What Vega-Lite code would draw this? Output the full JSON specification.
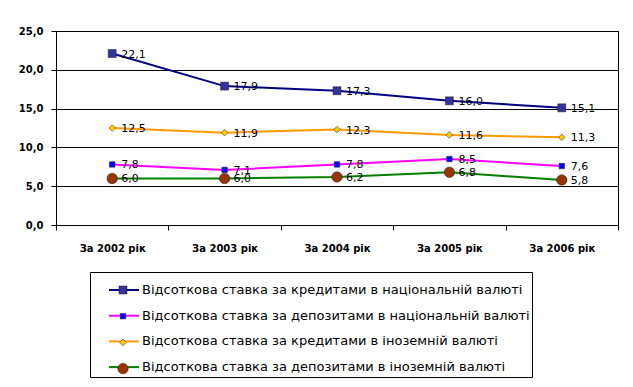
{
  "$schema": "https://vega.github.io/schema/vega-lite/v6.json",
  "width": 562,
  "height": 194,
  "autosize": {"type": "none"},
  "padding": {"left": 56, "top": 31, "right": 15, "bottom": 162},
  "background": "white",
  "config": {
    "locale": {"number": {"decimal": ",", "thousands": " ", "grouping": [3], "currency": ["", ""]}},
    "view": {"stroke": "black", "strokeWidth": 1},
    "font": "DejaVu Sans"
  },
  "data": {
    "values": [
      {"series": "Відсоткова ставка за кредитами в національній валюті", "year": "За 2002 рік", "value": 22.1},
      {"series": "Відсоткова ставка за кредитами в національній валюті", "year": "За 2003 рік", "value": 17.9},
      {"series": "Відсоткова ставка за кредитами в національній валюті", "year": "За 2004 рік", "value": 17.3},
      {"series": "Відсоткова ставка за кредитами в національній валюті", "year": "За 2005 рік", "value": 16.0},
      {"series": "Відсоткова ставка за кредитами в національній валюті", "year": "За 2006 рік", "value": 15.1},
      {"series": "Відсоткова ставка за депозитами в національній валюті", "year": "За 2002 рік", "value": 7.8},
      {"series": "Відсоткова ставка за депозитами в національній валюті", "year": "За 2003 рік", "value": 7.1},
      {"series": "Відсоткова ставка за депозитами в національній валюті", "year": "За 2004 рік", "value": 7.8},
      {"series": "Відсоткова ставка за депозитами в національній валюті", "year": "За 2005 рік", "value": 8.5},
      {"series": "Відсоткова ставка за депозитами в національній валюті", "year": "За 2006 рік", "value": 7.6},
      {"series": "Відсоткова ставка за кредитами в іноземній валюті", "year": "За 2002 рік", "value": 12.5},
      {"series": "Відсоткова ставка за кредитами в іноземній валюті", "year": "За 2003 рік", "value": 11.9},
      {"series": "Відсоткова ставка за кредитами в іноземній валюті", "year": "За 2004 рік", "value": 12.3},
      {"series": "Відсоткова ставка за кредитами в іноземній валюті", "year": "За 2005 рік", "value": 11.6},
      {"series": "Відсоткова ставка за кредитами в іноземній валюті", "year": "За 2006 рік", "value": 11.3},
      {"series": "Відсоткова ставка за депозитами в іноземній валюті", "year": "За 2002 рік", "value": 6.0},
      {"series": "Відсоткова ставка за депозитами в іноземній валюті", "year": "За 2003 рік", "value": 6.0},
      {"series": "Відсоткова ставка за депозитами в іноземній валюті", "year": "За 2004 рік", "value": 6.2},
      {"series": "Відсоткова ставка за депозитами в іноземній валюті", "year": "За 2005 рік", "value": 6.8},
      {"series": "Відсоткова ставка за депозитами в іноземній валюті", "year": "За 2006 рік", "value": 5.8}
    ]
  },
  "encoding": {
    "x": {
      "field": "year", "type": "ordinal", "bandPosition": 0.5,
      "scale": {"type": "band", "paddingInner": 0, "paddingOuter": 0},
      "axis": {
        "title": null, "labelAngle": 0, "domainColor": "black", "tickColor": "black",
        "tickBand": "extent", "tickSize": 5, "labelPadding": 13,
        "labelFont": "DejaVu Sans", "labelFontSize": 10, "labelFontWeight": "bold", "labelColor": "black",
        "grid": false
      }
    },
    "y": {
      "field": "value", "type": "quantitative",
      "scale": {"domain": [0, 25], "nice": false},
      "axis": {
        "title": null, "values": [0, 5, 10, 15, 20, 25], "format": ".1f",
        "domainColor": "black", "tickColor": "black", "tickSize": 5, "labelPadding": 8,
        "gridColor": "black", "gridOpacity": 1, "gridWidth": 1,
        "labelFont": "DejaVu Sans", "labelFontSize": 10, "labelFontWeight": "bold", "labelColor": "black"
      }
    }
  },
  "layer": [
    {
      "mark": {"type": "line", "strokeWidth": 2},
      "encoding": {
        "stroke": {
          "field": "series", "type": "nominal",
          "sort": [
            "Відсоткова ставка за кредитами в національній валюті",
            "Відсоткова ставка за депозитами в національній валюті",
            "Відсоткова ставка за кредитами в іноземній валюті",
            "Відсоткова ставка за депозитами в іноземній валюті"
          ],
          "scale": {"range": ["#000080", "#FF00FF", "#FF9900", "#008000"]},
          "legend": {
            "title": null, "orient": "none", "legendX": 34, "legendY": 241,
            "symbolType": "stroke", "symbolSize": 900, "symbolStrokeWidth": 2, "symbolOffset": 16,
            "labelFont": "DejaVu Sans", "labelFontSize": 13, "labelColor": "black", "labelLimit": 500,
            "labelOffset": 2, "rowPadding": 2.7, "padding": 2,
            "strokeColor": "black", "fillColor": "white", "direction": "vertical"
          }
        }
      }
    },
    {
      "mark": {"type": "point", "filled": true, "opacity": 1, "stroke": "#222222", "strokeWidth": 0.5},
      "encoding": {
        "fill": {
          "field": "series", "type": "nominal",
          "scale": {
            "domain": [
              "Відсоткова ставка за кредитами в національній валюті",
              "Відсоткова ставка за депозитами в національній валюті",
              "Відсоткова ставка за кредитами в іноземній валюті",
              "Відсоткова ставка за депозитами в іноземній валюті"
            ],
            "range": ["#333399", "#0000FF", "#FFCC00", "#993300"]
          },
          "legend": {
            "title": null, "orient": "none", "legendX": 34, "legendY": 250.5,
            "labelFont": "DejaVu Sans", "labelFontSize": 13, "labelOpacity": 0, "labelLimit": 500,
            "symbolOffset": 24.5,
            "labelOffset": 4, "rowPadding": 12.2, "padding": 2, "direction": "vertical",
            "symbolStrokeColor": "#222222", "symbolStrokeWidth": 0.5, "symbolOpacity": 1
          }
        },
        "shape": {
          "field": "series", "type": "nominal",
          "scale": {
            "domain": [
              "Відсоткова ставка за кредитами в національній валюті",
              "Відсоткова ставка за депозитами в національній валюті",
              "Відсоткова ставка за кредитами в іноземній валюті",
              "Відсоткова ставка за депозитами в іноземній валюті"
            ],
            "range": ["square", "square", "diamond", "circle"]
          }
        },
        "size": {
          "field": "series", "type": "nominal",
          "scale": {
            "type": "ordinal",
            "domain": [
              "Відсоткова ставка за кредитами в національній валюті",
              "Відсоткова ставка за депозитами в національній валюті",
              "Відсоткова ставка за кредитами в іноземній валюті",
              "Відсоткова ставка за депозитами в іноземній валюті"
            ],
            "range": [64, 30, 45, 110]
          }
        }
      }
    },
    {
      "mark": {"type": "text", "align": "left", "baseline": "middle", "dx": 9, "dy": 1, "font": "DejaVu Sans", "fontSize": 11, "color": "black"},
      "encoding": {
        "text": {"field": "value", "type": "quantitative", "format": ".1f"}
      }
    }
  ]
}
